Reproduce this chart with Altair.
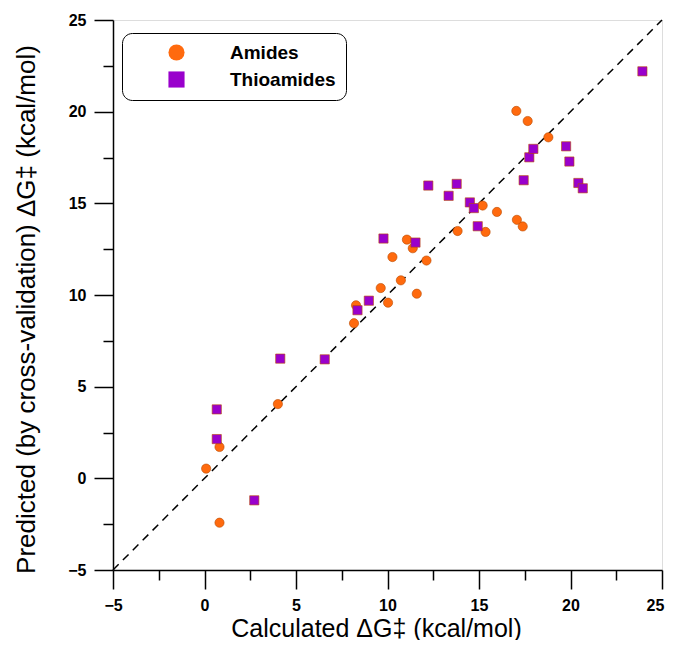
import altair as alt
import pandas as pd

amide_x = [0.09, 0.82, 0.82, 4.01, 8.17, 8.28, 9.63, 10.03, 10.27, 10.73, 11.06, 11.38,
           11.60, 12.13, 13.83, 15.20, 15.36, 15.98, 17.07, 17.39, 17.04, 17.66, 18.79]
amide_y = [0.53, -2.42, 1.71, 4.05, 8.46, 9.44, 10.38, 9.58, 12.07, 10.80, 13.02, 12.55,
           10.07, 11.88, 13.49, 14.88, 13.44, 14.53, 14.10, 13.74, 20.04, 19.49, 18.60]

thio_x = [0.67, 0.67, 2.72, 4.14, 6.57, 8.36, 8.98, 9.78, 11.53, 12.23, 13.78, 13.34,
          14.50, 14.72, 14.93, 17.44, 17.75, 17.97, 19.76, 19.94, 20.43, 20.67, 23.93]
thio_y = [3.76, 2.14, -1.20, 6.53, 6.49, 9.17, 9.69, 13.08, 12.86, 15.97, 16.06, 15.41,
          15.05, 14.74, 13.75, 16.26, 17.51, 17.97, 18.11, 17.28, 16.11, 15.82, 22.20]

series = ["Amides", "Thioamides"]
colors = ["#FF6A0E", "#9900CC"]
shapes = ["circle", "square"]
diag = [-5, 25]
ticks = [-5 + 2.5 * i for i in range(13)]

df = pd.DataFrame({
    "x": amide_x + thio_x,
    "y": amide_y + thio_y,
    "group": ["Amides"] * len(amide_x) + ["Thioamides"] * len(thio_x),
})
df_line = pd.DataFrame({"x": diag, "y": diag})

FONT = "Liberation Sans"
major = {"condition": {"test": "datum.value % 5 === 0", "value": 19}, "value": 10}
lab = "datum.value % 5 === 0 ? format(datum.value, 'd') : ''"
last_shift = {"condition": {"test": "datum.value === 25", "value": -7}, "value": 0}

xscale = alt.Scale(domain=[-5, 25], nice=False, zero=False)
yscale = alt.Scale(domain=[-5, 25], nice=False, zero=False)

xaxis = alt.Axis(values=ticks, tickSize=major, labelExpr=lab, grid=False,
                 title="Calculated ΔG‡ (kcal/mol)", titleFont=FONT, titleFontSize=25,
                 titleFontWeight="normal", titleX=263, titleY=66, titleBaseline="alphabetic",
                 labelFont=FONT, labelFontSize=16, labelFontWeight="bold", labelPadding=8,
                 labelOffset=last_shift,
                 tickColor="black", tickWidth=1.5, domainColor="black", domainWidth=1.5,
                 labelColor="black", titleColor="black", labelFlush=False)
yaxis = alt.Axis(values=ticks, tickSize=major, labelExpr=lab, grid=False,
                 title="Predicted (by cross-validation) ΔG‡ (kcal/mol)", titleFont=FONT,
                 titleFontSize=26, titleFontWeight="normal", titleX=-79, titleY=289,
                 titleBaseline="alphabetic", titleAngle=270,
                 labelFont=FONT, labelFontSize=16, labelFontWeight="bold", labelPadding=8,
                 tickColor="black", tickWidth=1.5, domainColor="black", domainWidth=1.5,
                 labelColor="black", titleColor="black", labelFlush=False)

legend = alt.Legend(title=None, orient="none", legendX=9, legendY=13,
                    strokeColor="black", cornerRadius=10, padding=10,
                    fillColor="white", symbolSize=260, symbolOffset=35,
                    labelOffset=44, rowPadding=7, labelFont=FONT,
                    labelFontSize=19, labelFontWeight="bold",
                    labelColor="black", symbolStrokeWidth=0)

line = alt.Chart(df_line).mark_line(color="black", strokeDash=[8, 6], strokeWidth=1.5).encode(
    x=alt.X("x:Q", scale=xscale, axis=xaxis),
    y=alt.Y("y:Q", scale=yscale, axis=yaxis),
)

pts = alt.Chart(df).mark_point(filled=True, opacity=1, size=85, stroke="#B84A00",
                               strokeWidth=0.6).encode(
    x=alt.X("x:Q", scale=xscale),
    y=alt.Y("y:Q", scale=yscale),
    color=alt.Color("group:N", scale=alt.Scale(domain=series, range=colors), legend=legend),
    shape=alt.Shape("group:N", scale=alt.Scale(domain=series, range=shapes), legend=legend),
)

chart = alt.layer(line, pts).properties(
    width=549, height=550,
    autosize=alt.AutoSizeParams(type="none"),
    padding={"left": 105, "top": 12, "right": 3, "bottom": 70},
).configure_view(stroke="black", strokeWidth=1.5).configure(background="white")

chart.save("out.html", embed_options={"renderer": "svg", "actions": False})
